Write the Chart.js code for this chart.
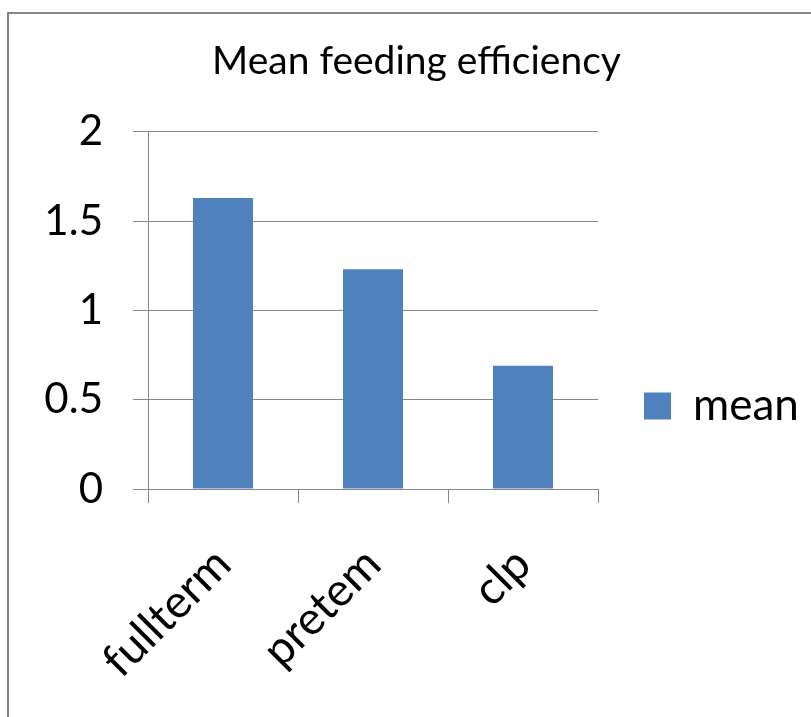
<!DOCTYPE html>
<html>
<head>
<meta charset="utf-8">
<title>Mean feeding efficiency</title>
<script src="https://cdn.jsdelivr.net/npm/chart.js@4"></script>
<style>
    html, body { margin: 0; padding: 0; background: #fff; }
    #wrap { width: 811px; height: 717px; position: relative; }
</style>
</head>
<body>
<div id="wrap"><canvas id="chart"></canvas></div>
<script>
// Chart data
const categories = ['fullterm', 'pretem', 'clp'];
const meanValues = [1.63, 1.23, 0.69];
const seriesName = 'mean';
const chartTitle = 'Mean feeding efficiency';
const yMin = 0;
const yMax = 2;
const yStep = 0.5;

const FONT = 'Lato';
const GRID = '#868686';

// Excel style outer frame + white background
const framePlugin = {
    id: 'frame',
    beforeDraw(chart) {
        const ctx = chart.ctx;
        ctx.save();
        ctx.fillStyle = '#fff';
        ctx.fillRect(0, 0, chart.width, chart.height);
        ctx.strokeStyle = GRID;
        ctx.lineWidth = 2;
        ctx.strokeRect(8, 13, 2000, 2000);
        ctx.restore();
    }
};

// Put the legend where Excel puts it (right, a bit below the middle)
const legendSpot = {
    id: 'legendSpot',
    afterLayout(chart) {
        const lg = chart.legend;
        if (!lg) return;
        const pad = lg.options.labels.padding;
        const w = lg.width, h = lg.height;
        lg.left = 644 - pad;
        lg.right = lg.left + w;
        lg.top = 384 - pad;
        lg.bottom = lg.top + h;
    }
};

new Chart(document.getElementById('chart'), {
    type: 'bar',
    data: {
        labels: categories,
        datasets: [{
            label: seriesName,
            data: meanValues,
            backgroundColor: '#4F81BD',
            borderWidth: 0,
            barPercentage: 0.4,
            categoryPercentage: 1.0
        }]
    },
    options: {
        responsive: true,
        maintainAspectRatio: false,
        animation: false,
        layout: {
            // left padding only nudges the title centre to where Excel had it
            padding: { left: 22, right: 0, top: 0, bottom: 0 }
        },
        plugins: {
            title: {
                display: true,
                text: chartTitle,
                color: '#000',
                font: { family: FONT, size: 39, weight: 'normal' },
                padding: { top: 38, bottom: 47 }
            },
            legend: {
                position: 'right',
                align: 'start',
                maxWidth: 213,
                labels: {
                    boxWidth: 27,
                    boxHeight: 27,
                    padding: 60,
                    color: '#000',
                    font: { family: FONT, size: 44 }
                }
            },
            tooltip: { enabled: false }
        },
        scales: {
            x: {
                offset: true,
                grid: {
                    display: true,
                    offset: true,
                    drawOnChartArea: false,
                    drawTicks: true,
                    tickLength: 14,
                    color: GRID
                },
                border: { display: true, color: GRID, width: 1 },
                ticks: {
                    color: '#000',
                    font: { family: FONT, size: 46 },
                    minRotation: 45,
                    maxRotation: 45,
                    padding: 34
                },
                afterFit(scale) { scale.height = 228; }
            },
            y: {
                min: yMin,
                max: yMax,
                grid: {
                    color: GRID,
                    tickLength: 15,
                    drawTicks: true
                },
                border: { display: true, color: GRID, width: 1 },
                ticks: {
                    stepSize: yStep,
                    color: '#000',
                    font: { family: FONT, size: 42 },
                    padding: 30,
                    callback: (value) => String(Number(value))
                },
                afterFit(scale) { scale.width = 126; }
            }
        }
    },
    plugins: [framePlugin, legendSpot]
});
</script>
</body>
</html>
